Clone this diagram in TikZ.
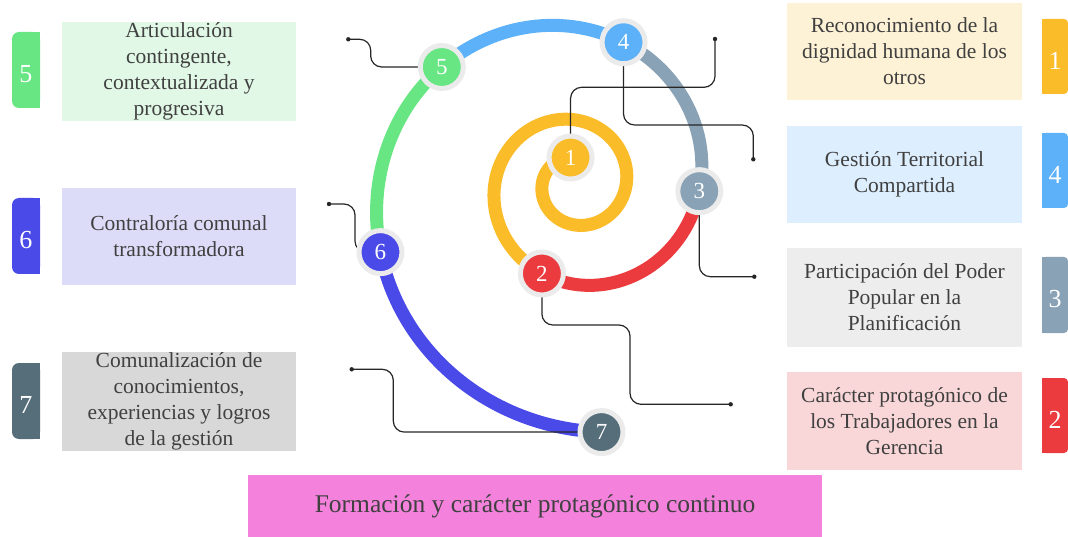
\documentclass[tikz,border=0pt]{standalone}
\usepackage{fontspec}
\setmainfont{Liberation Serif}
\definecolor{cyel}{HTML}{FBBC2A}
\definecolor{cred}{HTML}{EB3B3E}
\definecolor{cgry}{HTML}{8AA2B5}
\definecolor{cblu}{HTML}{5CB1F9}
\definecolor{cgrn}{HTML}{68E684}
\definecolor{cind}{HTML}{4A4AE8}
\definecolor{csla}{HTML}{566E7A}
\definecolor{fyel}{HTML}{FEF2D6}
\definecolor{fblu}{HTML}{DDEEFE}
\definecolor{fgry}{HTML}{EDEDED}
\definecolor{fred}{HTML}{F9D7D8}
\definecolor{fgrn}{HTML}{E1F8E6}
\definecolor{find}{HTML}{DCDCF8}
\definecolor{fsla}{HTML}{D8D8D8}
\definecolor{fpnk}{HTML}{F482DC}
\definecolor{ringc}{HTML}{EBEBEB}
\definecolor{txt}{HTML}{404040}
\tikzset{
  declare function={spr(\t)=41*exp(0.00248*(\t-270)); spx(\t)=575+spr(\t)*cos(\t); spy(\t)=184-spr(\t)*sin(\t);},
  box/.style={rectangle, inner sep=0pt, minimum width=235pt, minimum height=98pt, align=center, text=txt, font=\fontsize{21.5}{26}\selectfont},
  badge/.style={rectangle, inner sep=0pt, minimum width=28pt, minimum height=76pt, rounded corners=7pt},
  rbadge/.style={rectangle, inner sep=0pt, minimum width=26pt, minimum height=76pt, rounded corners=4pt},
  bnum/.style={text=white, inner sep=0pt, font=\fontsize{26}{26}\selectfont},
  num/.style={circle, minimum size=43pt, inner sep=0pt, draw=ringc, line width=5pt, text=white, font=\fontsize{23}{23}\selectfont},
  seg/.style={line width=13pt, line cap=butt},
  conn/.style={draw=black!85, line width=1.2pt, rounded corners=11pt},
  enddot/.style={fill=black!85}
}
\begin{document}
\begin{tikzpicture}[x=1pt,y=-1pt]
\useasboundingbox (0,0) rectangle (1068,537);
% spiral centres (on the spiral)
\coordinate (p1) at ({spx(99.5)},{spy(99.5)});
\coordinate (p2) at ({spx(609.7)},{spy(609.7)});
\coordinate (p3) at ({spx(716.7)},{spy(716.7)});
\coordinate (p4) at ({spx(791.1)},{spy(791.1)});
\coordinate (p5) at ({spx(858.7)},{spy(858.7)});
\coordinate (p6) at ({spx(919.3)},{spy(919.3)});
\coordinate (p7) at ({spx(996.1)},{spy(996.1)});
% connector free ends
\coordinate (d1) at (715,39);
\coordinate (d4) at (753.3,159.3);
\coordinate (d3) at (754.3,276.7);
\coordinate (d2) at (730.7,404.3);
\coordinate (d5) at (348.3,39.3);
\coordinate (d6) at (329,204);
\coordinate (d7) at (351.7,369.3);
% boxes
\node[box, fill=fgrn, minimum width=234pt, minimum height=99pt] (b5) at (179,71.5) {Articulación\\contingente,\\contextualizada y\\progresiva};
\node[box, fill=find, minimum width=234pt, minimum height=97pt] (b6) at (179,236.5) {Contraloría comunal\\transformadora};
\node[box, fill=fsla, minimum width=234pt, minimum height=99pt] (b7) at (179,401.5) {Comunalización de\\conocimientos,\\experiencias y logros\\de la gestión};
\node[box, fill=fyel, minimum height=97pt] (b1) at (904.5,51.5) {Reconocimiento de la\\dignidad humana de los\\otros};
\node[box, fill=fblu, minimum height=97pt] (b4) at (904.5,174.5) {Gestión Territorial\\Compartida};
\node[box, fill=fgry, minimum height=99pt] (b3) at (904.5,297.5) {Participación del Poder\\Popular en la\\Planificación};
\node[box, fill=fred, minimum height=98pt] (b2) at (904.5,421) {Carácter protagónico de\\los Trabajadores en la\\Gerencia};
\node[rectangle, fill=fpnk, minimum width=574pt, minimum height=62pt, inner sep=0pt, text=txt, font=\fontsize{25.5}{30}\selectfont] (b8) at (535,506) {Formación y carácter protagónico continuo};
% left badges
\fill[cgrn] (30,32) rectangle (40,108);
\node[badge, fill=cgrn] (k5) at (26,70) {};
\node[bnum] at (26,74) {5};
\fill[cind] (30,198) rectangle (40,274);
\node[badge, fill=cind] (k6) at (26,236) {};
\node[bnum] at (26,240) {6};
\fill[csla] (30,363) rectangle (40,439);
\node[badge, fill=csla] (k7) at (26,401) {};
\node[bnum] at (26,405) {7};
% right badges
\fill[cyel] (1042,19) rectangle (1052,94);
\node[rbadge, fill=cyel, minimum height=75pt] (k1) at (1055,56.5) {};
\node[bnum] at (1055,60.5) {1};
\fill[cblu] (1042,133) rectangle (1052,208);
\node[rbadge, fill=cblu, minimum height=75pt] (k4) at (1055,170.5) {};
\node[bnum] at (1055,174.5) {4};
\fill[cgry] (1042,257) rectangle (1052,333);
\node[rbadge, fill=cgry] (k3) at (1055,295) {};
\node[bnum] at (1055,299) {3};
\fill[cred] (1042,378) rectangle (1052,453);
\node[rbadge, fill=cred, minimum height=75pt] (k2) at (1055,415.5) {};
\node[bnum] at (1055,419.5) {2};
% spiral segments (logarithmic spiral)
\draw[seg, cyel] plot[domain=99.5:609.7, samples=140, variable=\t] ({spx(\t)},{spy(\t)});
\draw[seg, cred] plot[domain=609.7:716.7, samples=40, variable=\t] ({spx(\t)},{spy(\t)});
\draw[seg, cgry] plot[domain=716.7:791.1, samples=40, variable=\t] ({spx(\t)},{spy(\t)});
\draw[seg, cblu] plot[domain=791.1:858.7, samples=40, variable=\t] ({spx(\t)},{spy(\t)});
\draw[seg, cgrn] plot[domain=858.7:919.3, samples=40, variable=\t] ({spx(\t)},{spy(\t)});
\draw[seg, cind] plot[domain=919.3:996.1, samples=50, variable=\t] ({spx(\t)},{spy(\t)});
% connectors
\draw[conn] (p1) |- (715,87.3) -- (d1);
\draw[conn] (p4) |- (753.3,125) -- (d4);
\draw[conn] (p3) |- (d3);
\draw[conn] (p2) |- (630,325) |- (d2);
\draw[conn] (d5) -- (370.7,39.3) |- (p5);
\draw[conn] (d6) -- (355,204) |- (p6);
\draw[conn] (d7) -- (393.3,369.3) |- (p7);
\foreach \d in {d1,d2,d3,d4,d5,d6,d7} \fill[enddot] (\d) circle (2.2pt);
% numbered circles
\node[num, fill=cyel] (c1) at (p1) {1};
\node[num, fill=cred] (c2) at (p2) {2};
\node[num, fill=cgry] (c3) at (p3) {3};
\node[num, fill=cblu] (c4) at (p4) {4};
\node[num, fill=cgrn] (c5) at (p5) {5};
\node[num, fill=cind] (c6) at (p6) {6};
\node[num, fill=csla] (c7) at (p7) {7};
\end{tikzpicture}
\end{document}
